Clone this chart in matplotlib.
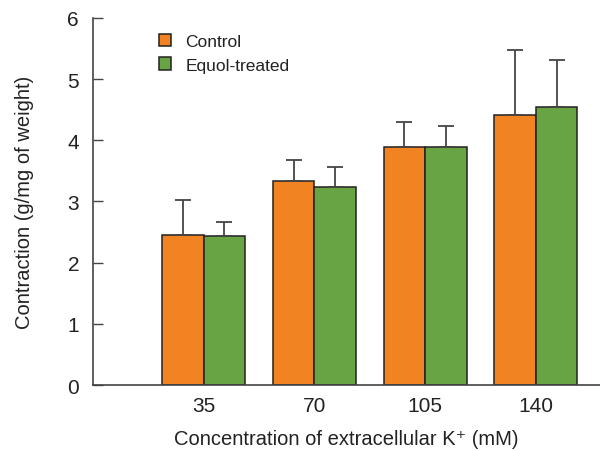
import numpy as np
import matplotlib.pyplot as plt

# data
conc = ['35', '70', '105', '140']
control = [2.46, 3.34, 3.89, 4.42]
control_sd = [0.56, 0.34, 0.41, 1.06]
equol = [2.43, 3.23, 3.89, 4.54]
equol_sd = [0.23, 0.33, 0.35, 0.77]

plt.rcParams['font.family'] = ['Liberation Sans', 'DejaVu Sans']

fig = plt.figure(figsize=(6, 4.52), dpi=100)
ax = fig.add_axes([0.155, 0.146, 0.845, 0.812])

x = np.arange(1, len(conc) + 1)
w = 0.375
ecol = '#444444'
ax.bar(x - w/2, control, w, color='#F28322', edgecolor='#222222', linewidth=1.1,
       yerr=[np.zeros(4), control_sd], error_kw=dict(ecolor=ecol, elinewidth=1.3, capsize=5.5, capthick=1.3),
       label='Control', zorder=2)
ax.bar(x + w/2, equol, w, color='#68A443', edgecolor='#222222', linewidth=1.1,
       yerr=[np.zeros(4), equol_sd], error_kw=dict(ecolor=ecol, elinewidth=1.3, capsize=5.5, capthick=1.3),
       label='Equol-treated', zorder=2)

ax.set_xlim(0, 4.58)
ax.set_ylim(0, 6)
ax.set_xticks(x)
ax.set_xticklabels(conc)
ax.set_yticks(range(0, 7))
ax.tick_params(axis='x', length=0, labelsize=15, pad=8, colors='#222222')
ax.tick_params(axis='y', direction='in', length=7, width=1, labelsize=15, pad=10,
               colors='#444444', labelcolor='#222222')
for s in ['top', 'right']:
    ax.spines[s].set_visible(False)
for s in ['left', 'bottom']:
    ax.spines[s].set_color('#444444')
    ax.spines[s].set_linewidth(1.2)

ax.set_ylabel('Contraction (g/mg of weight)', fontsize=14.5, color='#222222', labelpad=24)
ax.set_xlabel('Concentration of extracellular K\u207a (mM)', fontsize=14.5, color='#222222', labelpad=10)

leg = ax.legend(loc='upper left', bbox_to_anchor=(0.1, 1.0), frameon=False, fontsize=12.5,
                handlelength=0.7, handleheight=0.7, handletextpad=0.8, labelspacing=0.5)
for t in leg.get_texts():
    t.set_color('#222222')

fig.savefig('out.png', dpi=100)
